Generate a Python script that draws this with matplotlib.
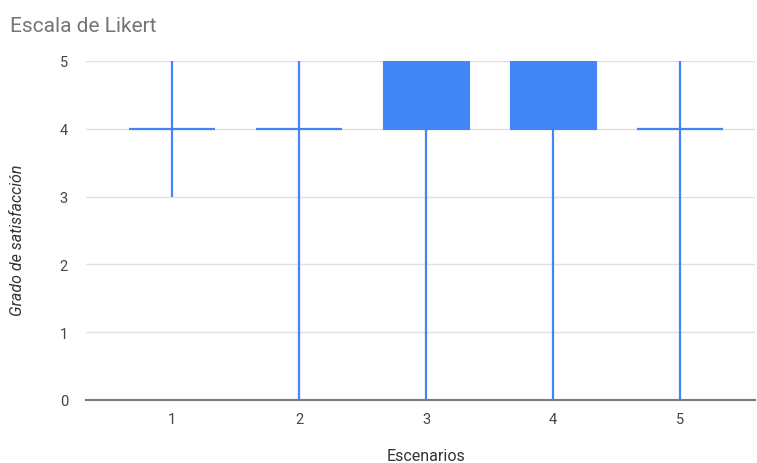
import matplotlib
matplotlib.use("Agg")
import matplotlib.pyplot as plt

categories = ["1", "2", "3", "4", "5"]
low = [3, 0, 0, 0, 0]
open_ = [4, 4, 4, 4, 4]
close = [4, 4, 5, 5, 4]
high = [5, 5, 5, 5, 5]
yticks = [0, 1, 2, 3, 4, 5]

plt.rcParams['font.family'] = ['Roboto', 'DejaVu Sans']
color = "#4285F4"

fig = plt.figure(figsize=(7.57, 4.64), dpi=100)
ax = fig.add_axes([86/757, 63/464, (755-86)/757, (401-62)/464])

x = list(range(1, len(categories) + 1))
w = 0.67
ax.vlines(x, low, high, color=color, lw=1.6, zorder=3)
for xi, o, c in zip(x, open_, close):
    if c != o:
        ax.bar(xi, c - o, bottom=o, width=w, color=color, edgecolor=color, lw=0.8, zorder=4)
    else:
        ax.hlines(o, xi - w/2, xi + w/2, color=color, lw=1.6, zorder=4)

ax.set_xlim(1 - 86/127, 5 + 75/127)
ax.set_ylim(0, 5)
ax.set_yticks(yticks)
ax.set_xticks(x)
ax.set_xticklabels(categories)
ax.grid(axis='y', color='#e0e0e0', lw=1, zorder=0)
ax.axhline(0, color='#7a7a7a', lw=1.5, zorder=5, clip_on=False)
for s in ax.spines.values():
    s.set_visible(False)
ax.tick_params(length=0, colors='#444444', labelsize=10.5)
ax.tick_params(axis='y', pad=13)
ax.tick_params(axis='x', pad=9)
fig.text(426/757, 1 - 457/464, "Escenarios", color='#333333', fontsize=11.5, ha='center', va='center')
fig.text(18/757, 1 - 240/464, "Grado de satisfacción", color='#333333', fontsize=11.5,
         style='italic', rotation=90, ha='center', va='center')
fig.text(10/757, 1 - 27/464, "Escala de Likert", fontsize=15, color='#757575', va='center', ha='left')

fig.savefig("out.png", dpi=100)
